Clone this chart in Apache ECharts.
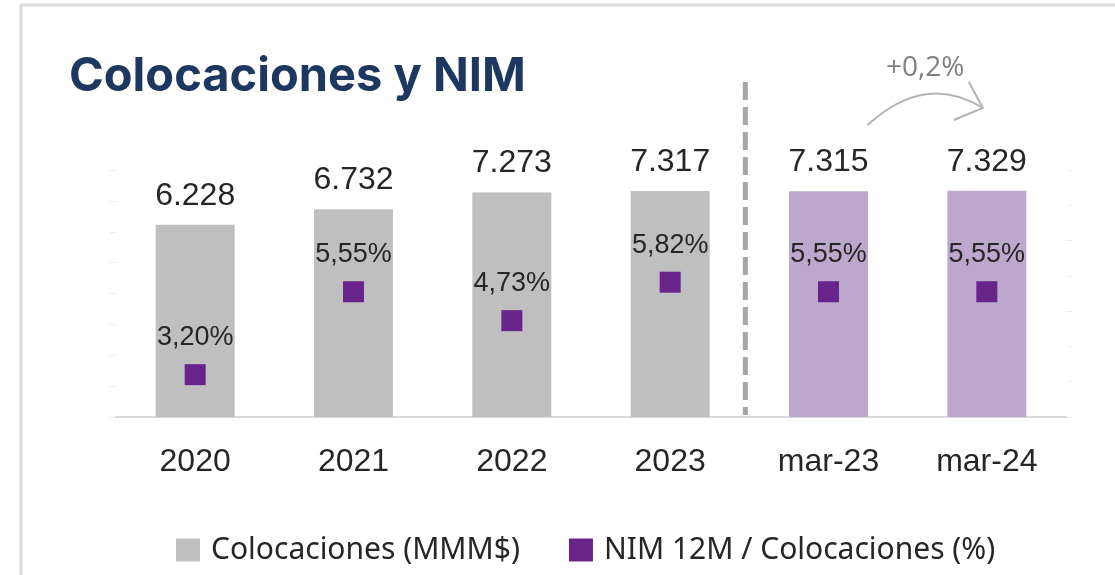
<!DOCTYPE html>
<html>
<head>
<meta charset="utf-8">
<script src="https://cdn.jsdelivr.net/npm/echarts@6/dist/echarts.min.js"></script>
<style>
html,body{margin:0;padding:0;background:#fff;}
#main{width:1115px;height:575px;}
</style>
</head>
<body>
<div id="main"></div>
<script>
var categories = ['2020', '2021', '2022', '2023', 'mar-23', 'mar-24'];
var colocaciones = [6228, 6732, 7273, 7317, 7315, 7329];
var nim = [3.20, 5.55, 4.73, 5.82, 5.55, 5.55];
var barColors = ['#bfbfbf', '#bfbfbf', '#bfbfbf', '#bfbfbf', '#bca8cc', '#bca8cc'];
var legendNames = ['Colocaciones (MMM$)', 'NIM 12M / Colocaciones (%)'];
var variacion = '+0,2%';

var chart = echarts.init(document.getElementById('main'));

function fmtMiles(v) {
    // 6228 -> 6.228
    var s = String(v);
    return s.slice(0, s.length - 3) + '.' + s.slice(s.length - 3);
}

var option = {
    animation: false,
    title: {
        text: 'Colocaciones y NIM',
        left: 64,
        top: 48,
        textStyle: {
            fontFamily: 'Inter',
            fontWeight: 'bold',
            fontSize: 47,
            color: '#1c3760'
        }
    },
    legend: {
        left: 171,
        top: 530,
        itemWidth: 24,
        itemHeight: 23,
        itemGap: 49,
        textStyle: {
            fontFamily: 'Noto Sans',
            fontSize: 30,
            color: '#262626',
            padding: [0, 0, 0, 6]
        },
        data: [
            {name: legendNames[0], icon: 'rect', itemStyle: {color: '#bfbfbf'}},
            {name: legendNames[1], icon: 'rect', itemStyle: {color: '#68248a'}}
        ]
    },
    grid: {
        left: 116,
        right: 49,
        top: 170,
        bottom: 158
    },
    xAxis: {
        type: 'category',
        data: categories,
        axisLine: {
            lineStyle: {color: '#d9d9d9', width: 2}
        },
        axisTick: {show: false},
        axisLabel: {
            margin: 29,
            fontFamily: 'Liberation Sans',
            fontSize: 32,
            color: '#262626'
        }
    },
    yAxis: [{
        type: 'value',
        min: 0,
        max: 8000,
        interval: 1000,
        axisLine: {show: false},
        axisTick: {show: true, length: 6, lineStyle: {color: '#ececec'}},
        axisLabel: {show: false},
        splitLine: {show: false}
    }, {
        type: 'value',
        min: 2,
        max: 9,
        interval: 1,
        position: 'right',
        axisLine: {show: false},
        axisTick: {show: true, length: 6, lineStyle: {color: '#ececec'}},
        axisLabel: {show: false},
        splitLine: {show: false}
    }],
    series: [{
        name: legendNames[0],
        type: 'bar',
        barWidth: 79,
        data: colocaciones.map(function (v, i) {
            return {value: v, itemStyle: {color: barColors[i]}};
        }),
        itemStyle: {color: '#bfbfbf'},
        label: {
            show: true,
            position: 'top',
            distance: 13,
            fontFamily: 'Liberation Sans',
            fontSize: 32,
            color: '#262626',
            formatter: function (p) { return fmtMiles(p.value); }
        }
    }, {
        name: legendNames[1],
        type: 'scatter',
        yAxisIndex: 1,
        symbol: 'rect',
        symbolSize: 21,
        data: nim,
        itemStyle: {color: '#68248a', opacity: 1},
        label: {
            show: true,
            position: 'top',
            distance: 13,
            fontFamily: 'Liberation Sans',
            fontSize: 27,
            color: '#262626',
            formatter: function (p) { return p.value.toFixed(2).replace('.', ',') + '%'; }
        }
    }]
};
chart.setOption(option);

// separador y flecha de variacion
var p3 = chart.convertToPixel({xAxisIndex: 0}, categories[3]);
var p4 = chart.convertToPixel({xAxisIndex: 0}, categories[4]);
var p5 = chart.convertToPixel({xAxisIndex: 0}, categories[5]);
var sepX = (p3 + p4) / 2 - 4;
var ax = p4 + 39, bx = p5 - 4;

chart.setOption({
    graphic: [{
        type: 'rect',
        shape: {x: 21, y: 5, width: 1200, height: 700},
        style: {fill: 'none', stroke: '#dcdcdc', lineWidth: 3},
        silent: true,
        z: -1
    }, {
        type: 'line',
        shape: {x1: sepX, y1: 82, x2: sepX, y2: 415},
        style: {stroke: '#a6a6a6', lineWidth: 5, lineDash: [18, 7]}
    }, {
        type: 'bezierCurve',
        shape: {x1: ax, y1: 125, cpx1: ax + 58, cpy1: 72, x2: bx, y2: 108},
        style: {stroke: '#b3b3b3', lineWidth: 2, fill: 'none'}
    }, {
        type: 'polyline',
        shape: {points: [[bx - 14, 82], [bx, 108], [bx - 29, 120]]},
        style: {stroke: '#b3b3b3', lineWidth: 2, fill: 'none'}
    }, {
        type: 'text',
        x: (ax + bx) / 2,
        y: 68,
        style: {
            text: variacion,
            fontFamily: 'Open Sans',
            fontSize: 28,
            fill: '#7f7f7f',
            align: 'center',
            verticalAlign: 'middle'
        }
    }]
});
</script>
</body>
</html>
